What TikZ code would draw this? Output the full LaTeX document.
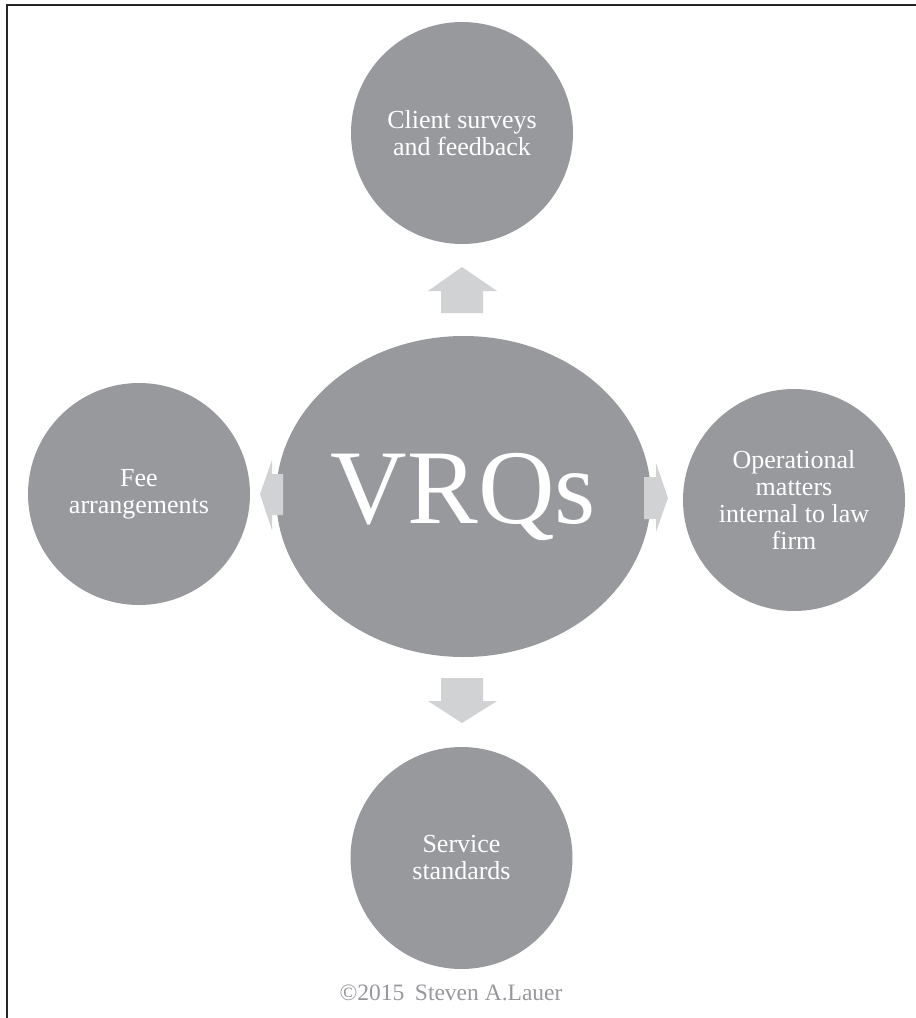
\documentclass[tikz,border=0pt]{standalone}
\usepackage{fontspec}
\setmainfont{Liberation Serif}
\usetikzlibrary{shapes.geometric}
\definecolor{circgray}{RGB}{152,153,157}
\definecolor{arrgray}{RGB}{209,210,212}
\definecolor{copygray}{RGB}{150,151,155}
\tikzset{
  bubble/.style={circle, fill=circgray, draw=none, minimum size=222pt, inner sep=0pt,
    text=white, align=center, font=\fontsize{26}{27}\selectfont},
  hub/.style={ellipse, fill=circgray, draw=none, minimum width=339pt, minimum height=321pt,
    inner sep=0pt, text=white, font=\fontsize{106}{110}\selectfont},
  blockarrow/.style={fill=arrgray, draw=none},
  frameline/.style={draw=black!85, line width=2pt}
}
\begin{document}
\begin{tikzpicture}[x=1pt, y=-1pt]
\useasboundingbox (0,0) rectangle (916,1018);
\draw[frameline] (7,1018) -- (7,5) -- (916,5);

\node[hub] (vrq) at (463.5,496.5) {\raisebox{-5pt}{VRQs}};
\node[bubble] (client) at (462,133) {Client surveys\\and feedback};
\node[bubble] (fee) at (139,494) {Fee\\arrangements};
\node[bubble] (ops) at (794,500) {Operational\\matters\\internal to law\\firm};
\node[bubble] (serv) at (461.5,858) {Service\\standards};

% block arrows
\fill[blockarrow] (462,267) -- (497,291) -- (483,291) -- (483,313) -- (441,313) -- (441,291) -- (428,291) -- cycle;
\fill[blockarrow] (441,678) -- (483,678) -- (483,701) -- (497,701) -- (462,723) -- (428,701) -- (441,701) -- cycle;
\fill[blockarrow] (260,494) -- (272,460) -- (272,474) -- (283,474) -- (283,515) -- (272,515) -- (272,530) -- cycle;
\fill[blockarrow] (644,477) -- (656,477) -- (656,463) -- (668,498) -- (656,532) -- (656,519) -- (644,519) -- cycle;

\node[text=copygray, font=\fontsize{23.5}{26}\selectfont, anchor=base] (copy) at (451,1000) {©2015\hspace{0.45em}Steven A.Lauer};
\end{tikzpicture}
\end{document}
